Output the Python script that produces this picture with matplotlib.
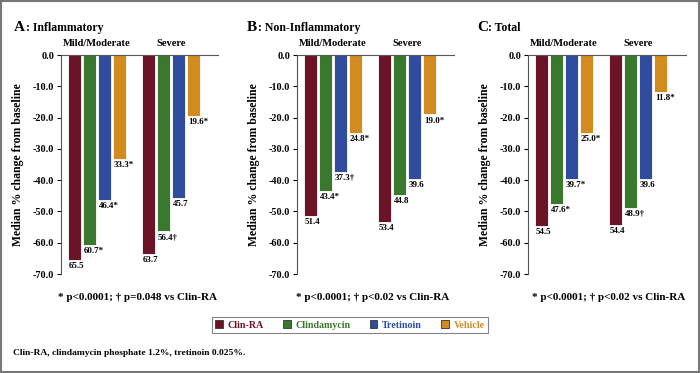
import matplotlib
matplotlib.use("Agg")
import matplotlib.pyplot as plt
import matplotlib.transforms as mtransforms
from matplotlib.patches import Patch, Rectangle
from matplotlib.ticker import FormatStrFormatter

# --- data -------------------------------------------------------------
treatments = ["Clin-RA", "Clindamycin", "Tretinoin", "Vehicle"]
groups = ["Mild/Moderate", "Severe"]

inflam_mild = [-65.5, -60.7, -46.4, -33.3]
inflam_severe = [-63.7, -56.4, -45.7, -19.6]
inflam_mild_marks = ["", "*", "*", "*"]
inflam_severe_marks = ["", "\u2020", "", "*"]

noninf_mild = [-51.4, -43.4, -37.3, -24.8]
noninf_severe = [-53.4, -44.8, -39.6, -19.0]
noninf_mild_marks = ["", "*", "\u2020", "*"]
noninf_severe_marks = ["", "", "", "*"]

total_mild = [-54.5, -47.6, -39.7, -25.0]
total_severe = [-54.4, -48.9, -39.6, -11.8]
total_mild_marks = ["", "*", "*", "*"]
total_severe_marks = ["", "\u2020", "", "*"]

panel_letters = ["A", "B", "C"]
panel_titles = [": Inflammatory", ": Non-Inflammatory", ": Total"]
footnotes = [
    "* p<0.0001; \u2020 p=0.048 vs Clin-RA",
    "* p<0.0001; \u2020 p<0.02 vs Clin-RA",
    "* p<0.0001; \u2020 p<0.02 vs Clin-RA",
]
yticks = [0, -10, -20, -30, -40, -50, -60, -70]

colors = ["#6c1427", "#3a782d", "#2f4c9f", "#d28b1f"]
FONT = "Liberation Serif"
plt.rcParams["font.family"] = FONT
plt.rcParams["font.weight"] = "bold"

W, H = 700, 373
fig = plt.figure(figsize=(W / 100, H / 100), dpi=100)

# axes placement in pixels (left, right)
axes_px = [(61, 218), (297, 454), (528, 686)]
top_px, bot_px = 55, 274
title_x = [14, 247, 477]
foot_x = [137, 373, 609]

panels = [
    (inflam_mild, inflam_severe, inflam_mild_marks, inflam_severe_marks),
    (noninf_mild, noninf_severe, noninf_mild_marks, noninf_severe_marks),
    (total_mild, total_severe, total_mild_marks, total_severe_marks),
]

step = 15.0  # px per bar slot
bar_w = 0.88
offsets = [-1.5, -0.5, 0.5, 1.5]
renderer = fig.canvas.get_renderer()

for i, (mild, severe, mmarks, smarks) in enumerate(panels):
    l, r = axes_px[i]
    ax = fig.add_axes([l / W, 1 - bot_px / H, (r - l) / W, (bot_px - top_px) / H])
    xmax = (r - l) / step
    centers = [35.8 / step, 109.8 / step]
    for g, (vals, marks) in enumerate([(mild, mmarks), (severe, smarks)]):
        for k in range(4):
            x = centers[g] + offsets[k]
            ax.bar(x, vals[k], width=bar_w, color=colors[k], edgecolor="white",
                   linewidth=0.6)
            ax.annotate(f"{abs(vals[k]):.1f}{marks[k]}", (x - bar_w / 2, vals[k]),
                        xytext=(1, -1.5), textcoords="offset points",
                        ha="left", va="top", fontsize=6.5, fontweight="bold")
        trans = mtransforms.blended_transform_factory(ax.transData, ax.transAxes)
        ax.text(centers[g], 1.03, groups[g], transform=trans, ha="center",
                va="bottom", fontsize=7.6, fontweight="bold")

    ax.set_xlim(0, xmax)
    ax.set_ylim(-70, 0)
    ax.set_yticks(yticks)
    ax.yaxis.set_major_formatter(FormatStrFormatter("%.1f"))
    ax.tick_params(axis="y", direction="out", length=3, width=0.8, pad=2,
                   labelsize=7.4)
    ax.tick_params(axis="x", bottom=False, labelbottom=False)
    for lab in ax.get_yticklabels():
        lab.set_fontweight("bold")
    ax.spines["right"].set_visible(False)
    ax.spines["bottom"].set_visible(False)
    ax.spines["top"].set_color("#555555")
    ax.spines["left"].set_color("#555555")
    ax.set_ylabel("Median % change from baseline", fontsize=8.5, fontweight="bold")
    ax.yaxis.set_label_coords(-0.235, 0.5)

    # panel title: big letter, then smaller text
    t1 = fig.text(title_x[i] / W, 1 - 31 / H, panel_letters[i], fontsize=11,
                  fontweight="bold", ha="left", va="baseline")
    bb = t1.get_window_extent(renderer)
    fig.text(bb.x1 / W + 0.5 / W, 1 - 31 / H, panel_titles[i], fontsize=8.5,
             fontweight="bold", ha="left", va="baseline")

    # footnote
    fig.text(foot_x[i] / W, 1 - 297 / H, footnotes[i], fontsize=8,
             fontweight="bold", ha="center", va="center")

handles = [Patch(facecolor=c, edgecolor="#333333", linewidth=0.6) for c in colors]
leg = fig.legend(handles, treatments, loc="center", bbox_to_anchor=(350 / W, 1 - 325 / H),
                 ncol=4, frameon=True, fancybox=False, fontsize=7.2,
                 handlelength=0.75, handleheight=0.75, handletextpad=0.5,
                 columnspacing=1.9, borderpad=0.35, labelcolor=colors)
leg.get_frame().set_edgecolor("#666666")
leg.get_frame().set_linewidth(0.8)
for t in leg.get_texts():
    t.set_fontweight("bold")

fig.text(13 / W, 1 - 353 / H, "Clin-RA, clindamycin phosphate 1.2%, tretinoin 0.025%.",
         fontsize=6.8, fontweight="bold", ha="left", va="center")

# outer frame
fig.patches.append(Rectangle((0.001, 0.002), 0.997, 0.995, transform=fig.transFigure,
                             fill=False, edgecolor="#777777", linewidth=1.5))

fig.savefig("out.png", dpi=100)
